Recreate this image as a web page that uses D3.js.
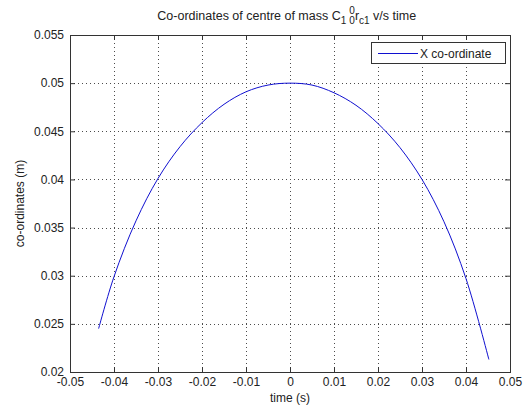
<!DOCTYPE html>
<html>
<head>
<meta charset="utf-8">
<script src="https://cdn.jsdelivr.net/npm/d3@7"></script>
<style>
  html, body { margin: 0; padding: 0; background: #fff; }
  svg { display: block; }
  text { font-family: "Liberation Sans", Arial, Helvetica, sans-serif; fill: #222; }
</style>
</head>
<body>
<svg id="chart" width="529" height="408"></svg>
<script>
// Time samples (s) and X co-ordinate of the centre of mass (m)
const timeValues = [-0.0435, -0.040, -0.035, -0.030, -0.025, -0.020, -0.015, -0.010, -0.005, 0,
                    0.005, 0.010, 0.015, 0.020, 0.025, 0.030, 0.035, 0.040, 0.0452];
const xCoordValues = [0.0245, 0.0299, 0.0357, 0.0401, 0.0434, 0.0459, 0.0478, 0.0491, 0.0498, 0.0500,
                      0.0498, 0.0490, 0.0477, 0.0458, 0.0433, 0.0400, 0.0356, 0.0297, 0.0213];
const xTicks = [-0.05, -0.04, -0.03, -0.02, -0.01, 0, 0.01, 0.02, 0.03, 0.04, 0.05];
const yTicks = [0.02, 0.025, 0.03, 0.035, 0.04, 0.045, 0.05, 0.055];
const seriesName = "X co-ordinate";

const svg = d3.select("#chart");
const box = { left: 70, right: 510, top: 35, bottom: 372 };

const x = d3.scaleLinear().domain([-0.05, 0.05]).range([box.left, box.right]);
const y = d3.scaleLinear().domain([0.02, 0.055]).range([box.bottom, box.top]);

const fmt = v => (v === 0 ? "0" : String(+v.toFixed(3)));

// Dotted grid
const grid = svg.append("g").attr("stroke", "#111").attr("stroke-width", 1)
  .attr("stroke-dasharray", "1,3").attr("opacity", 0.75);
grid.selectAll(".gx").data(xTicks.slice(1, -1)).join("line")
  .attr("x1", d => Math.round(x(d)) + 0.5).attr("x2", d => Math.round(x(d)) + 0.5)
  .attr("y1", box.top).attr("y2", box.bottom);
grid.selectAll(".gy").data(yTicks.slice(1, -1)).join("line")
  .attr("y1", d => Math.round(y(d)) + 0.5).attr("y2", d => Math.round(y(d)) + 0.5)
  .attr("x1", box.left).attr("x2", box.right);

// Axes with inward ticks on all four sides
const tickLen = 5;
const axisColor = "#333";
function styleAxis(g) {
  g.select(".domain").remove();
  g.selectAll(".tick line").attr("stroke", axisColor);
  g.selectAll(".tick text").attr("fill", "#222").attr("font-size", 12)
    .style("font-family", "'Liberation Sans', Arial, sans-serif");
}
svg.append("g").attr("transform", `translate(0,${box.bottom})`)
  .call(d3.axisBottom(x).tickValues(xTicks).tickFormat(fmt).tickSizeInner(-tickLen).tickSizeOuter(0).tickPadding(5))
  .call(styleAxis);
svg.append("g").attr("transform", `translate(0,${box.top})`)
  .call(d3.axisTop(x).tickValues(xTicks).tickFormat("").tickSizeInner(-tickLen).tickSizeOuter(0))
  .call(styleAxis);
svg.append("g").attr("transform", `translate(${box.left},0)`)
  .call(d3.axisLeft(y).tickValues(yTicks).tickFormat(fmt).tickSizeInner(-tickLen).tickSizeOuter(0).tickPadding(6))
  .call(styleAxis);
svg.append("g").attr("transform", `translate(${box.right},0)`)
  .call(d3.axisRight(y).tickValues(yTicks).tickFormat("").tickSizeInner(-tickLen).tickSizeOuter(0))
  .call(styleAxis);

// Axes box
svg.append("rect")
  .attr("x", box.left + 0.5).attr("y", box.top + 0.5)
  .attr("width", box.right - box.left).attr("height", box.bottom - box.top)
  .attr("fill", "none").attr("stroke", axisColor).attr("stroke-width", 1);

// Curve
const pts = timeValues.map((t, i) => [t, xCoordValues[i]]);
svg.append("path").datum(pts)
  .attr("fill", "none").attr("stroke", "#1010d0").attr("stroke-width", 1)
  .attr("d", d3.line().x(d => x(d[0])).y(d => y(d[1])).curve(d3.curveCatmullRom.alpha(0.5)));

// Legend
const lg = svg.append("g");
lg.append("rect").attr("x", 371.5).attr("y", 42.5).attr("width", 134).attr("height", 21)
  .attr("fill", "#fff").attr("stroke", axisColor);
lg.append("line").attr("x1", 378).attr("x2", 418).attr("y1", 53.5).attr("y2", 53.5)
  .attr("stroke", "#1010d0").attr("stroke-width", 1);
lg.append("text").attr("x", 420).attr("y", 58).attr("font-size", 12).text(seriesName);

// Axis labels
svg.append("text").attr("x", (box.left + box.right) / 2).attr("y", 402)
  .attr("text-anchor", "middle").attr("font-size", 12).text("time (s)");
svg.append("text").attr("transform", `translate(24,${(box.top + box.bottom) / 2}) rotate(-90)`)
  .attr("text-anchor", "middle").attr("font-size", 12).text("co-ordinates (m)");

// Title with sub/superscripts: C_1 ^0_0 r_c1
const tg = svg.append("g");
const base = 20;
let cx = 0;
function piece(str, size, dy) {
  const t = tg.append("text").attr("x", cx).attr("y", base + dy).attr("font-size", size).text(str);
  const w = t.node().getComputedTextLength();
  return { t, w };
}
let p = piece("Co-ordinates of centre of mass C", 12.5, 0); cx += p.w;
p = piece("1", 10, 4); cx += p.w + 3;
const sup = piece("0", 10, -6);
const sub = piece("0", 10, 4);
cx += Math.max(sup.w, sub.w);
p = piece("r", 12.5, 0); cx += p.w;
p = piece("c1", 10, 4); cx += p.w;
p = piece(" v/s time", 12.5, 0); cx += p.w;
tg.selectAll("text").attr("xml:space", "preserve").style("white-space", "pre");
tg.attr("transform", `translate(${285 - cx / 2},0)`);
</script>
</body>
</html>
